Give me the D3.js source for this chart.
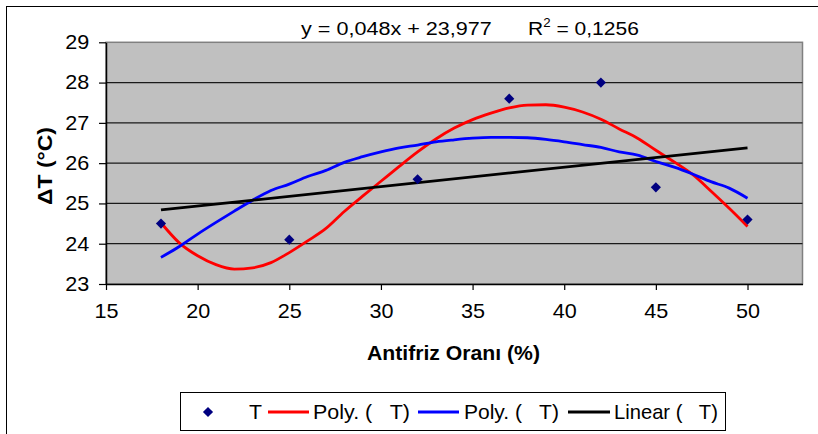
<!DOCTYPE html>
<html><head><meta charset="utf-8">
<script src="https://cdn.jsdelivr.net/npm/d3@7"></script>
<style>
body{margin:0;background:#fff}
svg{display:block}
text{font-family:Arial,"Liberation Sans",sans-serif;white-space:pre;fill:#000}
</style>
</head><body>
<svg id="c" width="818" height="434"></svg>
<script>
// ---- data ----
const pctX   = [18, 25, 32, 37, 42, 45, 50];
const deltaT = [24.5, 24.1, 25.6, 27.6, 28.0, 25.4, 24.6];

const trendX = [18,19,20,21,22,23,24,25,26,27,28,29,30,31,32,33,34,35,36,37,38,39,40,41,42,43,44,45,46,47,48,49,50];
const polyRed = [24.52,24.02,23.70,23.48,23.37,23.40,23.53,23.78,24.07,24.38,24.80,25.18,25.55,25.92,26.28,26.60,26.87,27.08,27.24,27.37,27.44,27.45,27.39,27.27,27.09,26.85,26.62,26.32,26.03,25.72,25.31,24.88,24.43];
const polyBlue = [23.66,23.93,24.24,24.53,24.81,25.08,25.32,25.48,25.67,25.82,26.02,26.16,26.28,26.38,26.45,26.53,26.58,26.62,26.64,26.64,26.63,26.59,26.53,26.46,26.39,26.28,26.20,26.04,25.90,25.73,25.54,25.38,25.13];
const linearX = [18, 50];
const linearY = [24.84, 26.38];

const xTicks = [15, 20, 25, 30, 35, 40, 45, 50];
const yTicks = [23, 24, 25, 26, 27, 28, 29];
const gridTicks = [24, 25, 26, 27, 28];

const eqLeft = "y = 0,048x + 23,977";
const eqR = "R", eqSup = "2", eqRight = " = 0,1256";
const xTitle = "Antifriz Oranı (%)";
const yTitle = "ΔT (°C)";
const legendLabels = ["T", "Poly. (   T)", "Poly. (   T)", "Linear (   T)"];
const legendColors = ["#000080", "#ff0000", "#0000ff", "#000000"];

// ---- layout ----
const svg = d3.select("#c");
const L = 106, R = 802.5, T = 42.3, B = 284;
const x = d3.scaleLinear().domain([15, 53]).range([L, R]);
const y = d3.scaleLinear().domain([23, 29]).range([B, T]);

// fit a text element horizontally to a target width, anchored at its start
function fitWidth(t, x0, y0, w) {
  const bw = t.node().getBBox().width;
  t.attr("x", 0).attr("y", 0).attr("transform", `translate(${x0},${y0}) scale(${w / bw},1)`);
}

// outer chart border
svg.append("rect").attr("x", 6.5).attr("y", 6.5).attr("width", 830).attr("height", 450)
  .attr("fill", "#fff").attr("stroke", "#000").attr("stroke-width", 1);

// plot area
svg.append("rect").attr("x", L).attr("y", T).attr("width", R - L).attr("height", B - T)
  .attr("fill", "#c0c0c0").attr("stroke", "#808080").attr("stroke-width", 1.5);

// gridlines
svg.append("g").selectAll("line").data(gridTicks).join("line")
  .attr("x1", L).attr("x2", R)
  .attr("y1", d => y(d)).attr("y2", d => y(d))
  .attr("stroke", "#1a1a1a").attr("stroke-width", 1.2);

// axes
const fs = 20;
const gx = svg.append("g").attr("transform", `translate(0,${B})`)
  .call(d3.axisBottom(x).tickValues(xTicks).tickFormat(d3.format("d")).tickSize(6).tickSizeOuter(0).tickPadding(14));
const gy = svg.append("g").attr("transform", `translate(${L},0)`)
  .call(d3.axisLeft(y).tickValues(yTicks).tickFormat(d3.format("d")).tickSize(7).tickSizeOuter(0).tickPadding(9));
[gx, gy].forEach(g => {
  g.select(".domain").attr("stroke", "#000").attr("stroke-width", 1.5);
  g.selectAll(".tick line").attr("stroke", "#000").attr("stroke-width", 1.2);
  g.selectAll(".tick text").attr("font-size", fs).attr("font-family", "Arial, 'Liberation Sans', sans-serif").attr("fill", "#000");
});
gx.selectAll(".tick text").attr("transform", "scale(1.08,1)");
gy.selectAll(".tick text").attr("transform", "scale(1.08,1)").attr("x", -15.5);

// trend lines
const line = d3.line().x(d => x(d[0])).y(d => y(d[1])).curve(d3.curveMonotoneX);
svg.append("path").datum(d3.zip(trendX, polyRed)).attr("d", line)
  .attr("fill", "none").attr("stroke", "#ff0000").attr("stroke-width", 2.8);
svg.append("path").datum(d3.zip(trendX, polyBlue)).attr("d", line)
  .attr("fill", "none").attr("stroke", "#0000ff").attr("stroke-width", 2.8);
svg.append("path").datum(d3.zip(linearX, linearY)).attr("d", d3.line().x(d => x(d[0])).y(d => y(d[1])))
  .attr("fill", "none").attr("stroke", "#000").attr("stroke-width", 2.8);

// markers
const diamond = d3.symbol().type(d3.symbolDiamond2).size(66);
svg.append("g").selectAll("path").data(d3.zip(pctX, deltaT)).join("path")
  .attr("d", diamond)
  .attr("transform", d => `translate(${x(d[0])},${y(d[1])})`)
  .attr("fill", "#000080");

// equation
const eq1 = svg.append("text").attr("font-size", 19).text(eqLeft);
fitWidth(eq1, 301, 35, 191);
const r2 = svg.append("text").attr("font-size", 19);
r2.append("tspan").text(eqR);
r2.append("tspan").attr("font-size", 12).attr("dy", -8).text(eqSup);
r2.append("tspan").attr("dy", 8).text(eqRight);
fitWidth(r2, 528, 35, 111);

// axis titles
svg.append("text").attr("x", 367).attr("y", 360).attr("font-size", 21).attr("font-weight", "bold")
  .attr("textLength", 173).attr("lengthAdjust", "spacingAndGlyphs").text(xTitle);
svg.append("text").attr("transform", "translate(52,205) rotate(-90)").attr("font-size", 21).attr("font-weight", "bold")
  .attr("textLength", 78).attr("lengthAdjust", "spacingAndGlyphs").text(yTitle);

// legend
svg.append("rect").attr("x", 180.5).attr("y", 392.5).attr("width", 545).attr("height", 38)
  .attr("fill", "#fff").attr("stroke", "#000").attr("stroke-width", 1);
const legY = 412;
svg.append("path").attr("d", diamond).attr("transform", `translate(208,${legY})`).attr("fill", legendColors[0]);
const legText = [
  {x: 249, w: 13}, {x: 313, w: 97}, {x: 464, w: 95}, {x: 614, w: 104}
];
const legLines = [null, [268, 309], [418, 459], [568, 610]];
legendLabels.forEach((lab, i) => {
  if (legLines[i]) {
    svg.append("line").attr("x1", legLines[i][0]).attr("x2", legLines[i][1])
      .attr("y1", legY).attr("y2", legY).attr("stroke", legendColors[i]).attr("stroke-width", 3);
  }
  const t = svg.append("text").attr("font-size", 20).text(lab);
  fitWidth(t, legText[i].x, 419, legText[i].w);
});
</script>
</body></html>
